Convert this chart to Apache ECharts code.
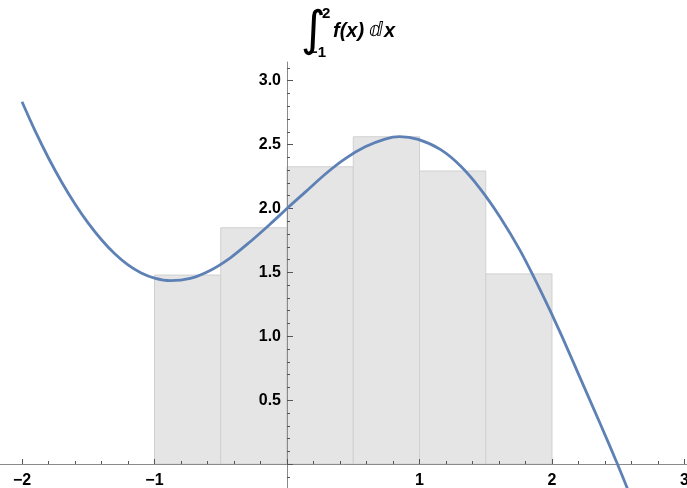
<!DOCTYPE html>
<html>
<head>
<meta charset="UTF-8">
<title>Integral</title>
<script src="https://cdn.jsdelivr.net/npm/echarts@6/dist/echarts.min.js"></script>
<style>
    html, body { margin: 0; padding: 0; background: #fff; }
    #chart { width: 687px; height: 488px; }
</style>
</head>
<body>
<div id="chart"></div>
<script>
    // curve
    var curveX = [-2.0, -1.9, -1.8, -1.7, -1.6, -1.5, -1.4, -1.3, -1.2, -1.1, -1.0, -0.88, -0.73, -0.58, -0.43, -0.28, -0.13, 0,
                  0.14, 0.29, 0.44, 0.59, 0.74, 0.85, 0.99, 1.16, 1.31, 1.46, 1.61, 1.76, 1.91, 2.06, 2.21, 2.36, 2.49, 2.6];
    var curveY = [2.835, 2.605, 2.395, 2.205, 2.035, 1.885, 1.755, 1.645, 1.558, 1.495, 1.455, 1.435, 1.453, 1.515, 1.612, 1.738, 1.875, 2.0,
                  2.13, 2.27, 2.39, 2.482, 2.543, 2.562, 2.54, 2.46, 2.332, 2.152, 1.93, 1.67, 1.365, 1.035, 0.68, 0.325, 0.01, -0.27];

    // rectangles
    var rectLeft = [-1, -0.5, 0, 0.5, 1, 1.5];
    var rectRight = [-0.5, 0, 0.5, 1, 1.5, 2];
    var rectHeight = [1.479, 1.849, 2.326, 2.561, 2.293, 1.488];

    // major ticks / labels
    var xTicks = [-3, -2, -1, 0, 1, 2, 3];
    var xLabels = [-2, -1, 1, 2, 3];
    var yTicks = [-0.5, 0, 0.5, 1.0, 1.5, 2.0, 2.5, 3.0];
    var yLabels = [0.5, 1.0, 1.5, 2.0, 2.5, 3.0];

    var labelFont = {
        color: '#000',
        fontFamily: '"Liberation Sans", Arial, sans-serif',
        fontWeight: 'bold',
        fontSize: 16
    };

    // grid: x from -3 at px -110.5 to 3.019 at px 687; y from -0.5 at px 528 to 3.146 at px 62
    var gridLeft = -110.5, gridTop = 62, gridW = 797.5, gridH = 466;
    var zeroX = 287, zeroY = 464;

    var chart = echarts.init(document.getElementById('chart'));

    var option = {
        animation: false,
        grid: { left: gridLeft, top: gridTop, width: gridW, height: gridH, outerBoundsMode: 'none' },
        xAxis: {
            type: 'value', min: -3, max: 3.019, interval: 1, z: 3,
            position: 'bottom', offset: zeroY - (gridTop + gridH),
            axisLine: { onZero: false, lineStyle: { color: '#8a8a8a', width: 1 } },
            axisTick: { inside: true, length: 5, customValues: xTicks, lineStyle: { color: '#555', width: 1 } },
            minorTick: { show: true, splitNumber: 5, length: 3, lineStyle: { color: '#555', width: 1 } },
            axisLabel: Object.assign({
                margin: 9, customValues: xLabels,
                formatter: function (v) { return v < 0 ? '\u2212' + (-v) : String(v); }
            }, labelFont),
            splitLine: { show: false }
        },
        yAxis: {
            type: 'value', min: -0.5, max: 3.146, interval: 0.5, z: 3,
            position: 'left', offset: gridLeft - zeroX,
            axisLine: { onZero: false, lineStyle: { color: '#8a8a8a', width: 1 } },
            axisTick: { inside: true, length: 6, customValues: yTicks, lineStyle: { color: '#555', width: 1 } },
            minorTick: { show: true, splitNumber: 5, length: 3, lineStyle: { color: '#555', width: 1 } },
            axisLabel: Object.assign({
                margin: 6, customValues: yLabels,
                formatter: function (v) { return v.toFixed(1); }
            }, labelFont),
            splitLine: { show: false }
        },
        graphic: [
            { type: 'text', x: 301, y: 9, z: 10,
              style: { text: '\u222B', font: '48px "DejaVu Sans"', fill: '#000' } },
            { type: 'text', x: 322, y: 6, z: 10,
              style: { text: '2', font: 'bold 15px "Liberation Sans"', fill: '#000' } },
            { type: 'text', x: 309, y: 45, z: 10,
              style: { text: '\u22121', font: 'bold 15px "Liberation Sans"', fill: '#000' } },
            { type: 'text', x: 333, y: 21, z: 10,
              style: { text: 'f(x)', font: 'italic bold 20px "Liberation Sans"', fill: '#000' } },
            { type: 'text', x: 369, y: 21, z: 10,
              style: { text: '\u2146', font: 'italic 20px "DejaVu Sans"', fill: '#000' } },
            { type: 'text', x: 384, y: 21, z: 10,
              style: { text: 'x', font: 'italic bold 20px "Liberation Sans"', fill: '#000' } }
        ],
        series: [
            {
                type: 'custom',
                silent: true,
                z: 1,
                data: rectLeft.map(function (l, i) { return [l, rectRight[i], rectHeight[i]]; }),
                encode: { x: [0, 1], y: 2 },
                renderItem: function (params, api) {
                    var p0 = api.coord([api.value(0), api.value(2)]);
                    var p1 = api.coord([api.value(1), 0]);
                    return {
                        type: 'rect',
                        shape: { x: p0[0], y: p0[1], width: p1[0] - p0[0], height: p1[1] - p0[1] },
                        style: { fill: '#e5e5e5', stroke: '#d0d0d0', lineWidth: 1 }
                    };
                }
            },
            {
                type: 'line',
                z: 4,
                smooth: 0.3,
                showSymbol: false,
                silent: true,
                lineStyle: { color: '#5e81b5', width: 2.8 },
                data: curveX.map(function (x, i) { return [x, curveY[i]]; })
            }
        ]
    };

    chart.setOption(option);
</script>
</body>
</html>
